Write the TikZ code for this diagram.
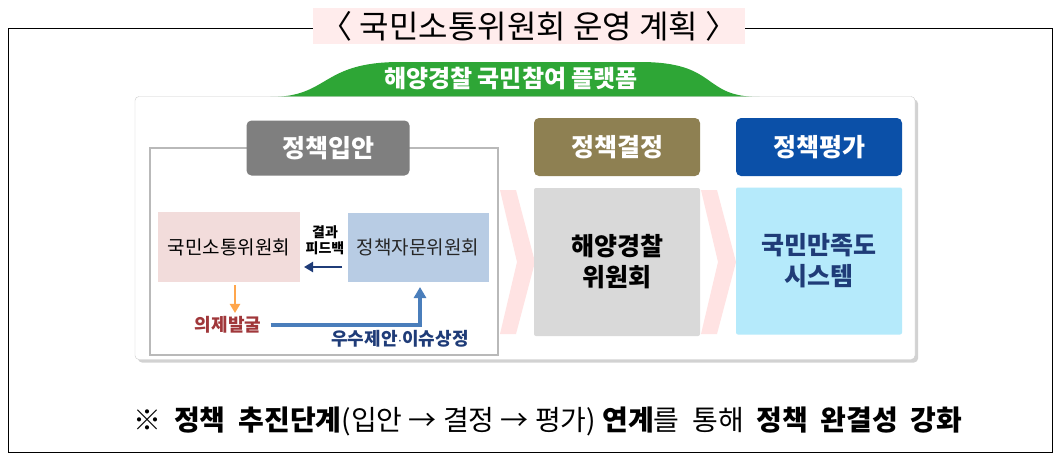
\documentclass[tikz,border=0pt]{standalone}
\usepackage{fontspec}
\setmainfont{Noto Sans CJK KR}
\usetikzlibrary{arrows.meta,shadows}
\definecolor{hdgray}{HTML}{7F7F7F}
\definecolor{olive}{HTML}{8E8052}
\definecolor{navyb}{HTML}{0B50A8}
\definecolor{pinkb}{HTML}{F2DCDB}
\definecolor{blueb}{HTML}{B8CCE4}
\definecolor{grayb}{HTML}{D9D9D9}
\definecolor{cyanb}{HTML}{B5EAFB}
\definecolor{greenm}{HTML}{2EA636}
\definecolor{arrblue}{HTML}{4A7EBB}
\definecolor{darkred}{HTML}{A0373A}
\definecolor{textblue}{HTML}{1F3C78}
\begin{document}
\begin{tikzpicture}[x=1pt,y=-1pt,
  hdr/.style={rounded corners=5pt,text=white,font=\fontsize{25}{28}\selectfont\bfseries,inner sep=0},
  body/.style={inner sep=0,align=center},
  chev/.style={fill=red!18,draw=none,opacity=0.6}]
\useasboundingbox (0,0) rectangle (1059,459);
\fill[white] (0,0) rectangle (1059,459);
\node[draw=black,line width=0.8pt,minimum width=1044pt,minimum height=424pt,inner sep=0] (frame) at (530,240) {};
\node[fill=pink!30,minimum width=432pt,minimum height=36pt,inner sep=0,font=\fontsize{32}{34}\selectfont] (title) at (529,26) {〈\ 국민소통위원회 운영 계획\ 〉};
% green mound
\fill[greenm] (270,97) .. controls (330,97) and (320,62) .. (400,62) -- (640,62) .. controls (720,62) and (700,97) .. (760,97) -- cycle;
\node[text=white,font=\fontsize{24}{26}\selectfont\bfseries] (plat) at (511,79) {해양경찰 국민참여 플랫폼};
% panel
\node[draw=gray!40,fill=white,rounded corners=4pt,drop shadow={opacity=0.35,shadow xshift=3pt,shadow yshift=-3pt},minimum width=780pt,minimum height=263pt,inner sep=0] (panel) at (525,228) {};
\draw[gray!55,line width=1.5pt] (150,148) rectangle (498,355);
\node[hdr,fill=hdgray,minimum width=163pt,minimum height=55pt] (h1) at (328,148) {정책입안};
\node[body,fill=pinkb,minimum width=142pt,minimum height=70pt,font=\fontsize{19}{22}\selectfont] (kp) at (229,247) {국민소통위원회};
\node[body,fill=blueb,minimum width=141pt,minimum height=69pt,font=\fontsize{19}{22}\selectfont,text=black!85] (pa) at (418,247) {정책자문위원회};
\node[font=\fontsize{14}{16}\selectfont\bfseries,align=center] (fb) at (325,240) {결과\\피드백};
\draw[-{Triangle[width=10pt,length=9pt]},line width=2.5pt,textblue] (342,267) coordinate (fa) -- (304,267) coordinate (fbend);
\node[text=darkred,font=\fontsize{18}{20}\selectfont\bfseries] (ag) at (228,325) {의제발굴};
\draw[-{Triangle[width=10pt,length=9pt]},line width=2.5pt,orange!70] (kp.south-|235,0) ++(0,3) -- (ag.north-|235,0);
\draw[-{Triangle[width=12pt,length=11pt]},line width=4pt,arrblue] (ag.east) ++(6,0) -- (420,325) -- (420,287);
\node[text=textblue,font=\fontsize{18}{20}\selectfont\bfseries] (us) at (400,339) {우수제안$\cdot$이슈상정};
% chevrons
\fill[chev] (500,190) -- (516,190) -- (535,262) -- (516,334) -- (500,334) -- (517,262) -- cycle;
\fill[chev] (701,190) -- (717,190) -- (736,262) -- (717,334) -- (701,334) -- (718,262) -- cycle;
\node[hdr,fill=olive,minimum width=166pt,minimum height=58pt] (h2) at (617,147) {정책결정};
\node[body,fill=grayb,rounded corners=2pt,minimum width=166pt,minimum height=148pt,font=\fontsize{25}{31}\selectfont\bfseries] (hw) at (617,262) {해양경찰\\위원회};
\node[hdr,fill=navyb,minimum width=166pt,minimum height=58pt] (h3) at (819,147) {정책평가};
\node[body,fill=cyanb,rounded corners=2pt,minimum width=166pt,minimum height=147pt,text=textblue,font=\fontsize{25}{31}\selectfont\bfseries] (ms) at (819,261) {국민만족도\\시스템};
\node[font=\fontsize{28}{30}\selectfont] (note) at (548,421) {※\ \ \textbf{정책\ \ 추진단계}(입안 → 결정 → 평가)\ \textbf{연계}를\ \ 통해\ \ \textbf{정책\ \ 완결성\ \ 강화}};
\end{tikzpicture}
\end{document}
